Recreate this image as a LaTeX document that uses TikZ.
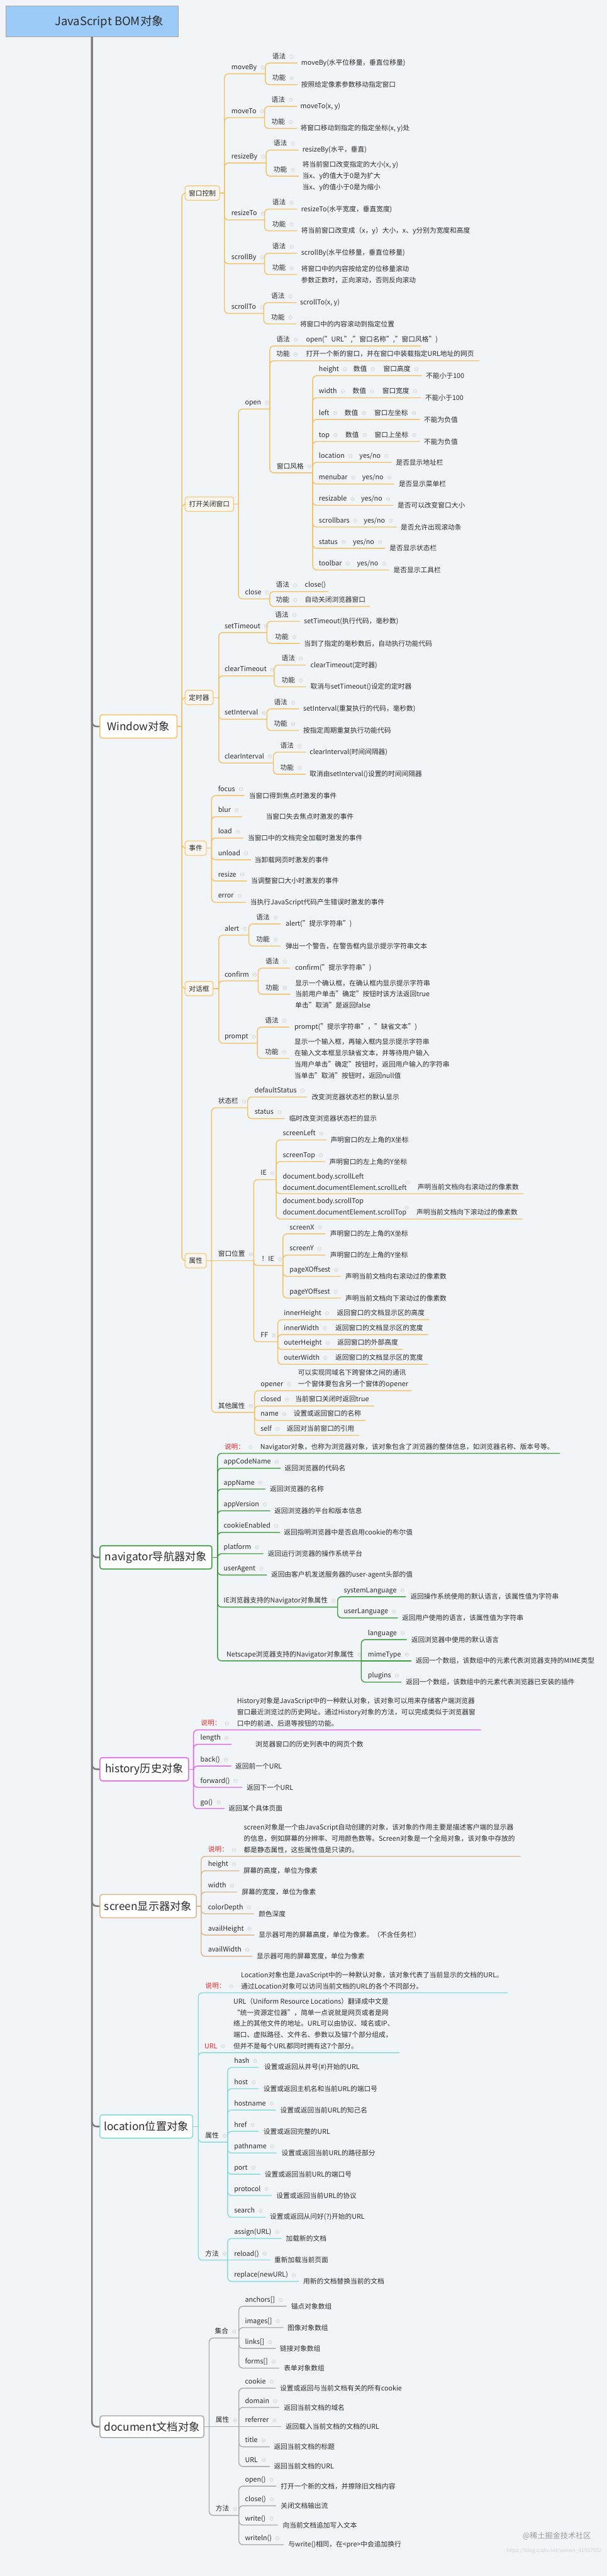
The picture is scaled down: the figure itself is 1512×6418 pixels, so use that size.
\documentclass[tikz,border=0pt]{standalone}
\usepackage{fontspec}
\setmainfont{Noto Sans CJK SC}
\newcommand\fsm{\fontsize{8.4}{14}\selectfont}
\newcommand\fbg{\fontsize{13.5}{16}\selectfont}
\newcommand\fti{\fontsize{14.5}{17}\selectfont}
\definecolor{bg}{HTML}{F2F5F7}
\definecolor{cw}{HTML}{F3C163}
\definecolor{cn}{HTML}{3E9A3E}
\definecolor{ch}{HTML}{E266E6}
\definecolor{cs}{HTML}{D9B48C}
\definecolor{cl}{HTML}{86DADC}
\definecolor{cd}{HTML}{A9A9A9}
\definecolor{trk}{HTML}{7D7D7D}
\definecolor{bx2}{HTML}{F9F6EF}
\definecolor{tc}{HTML}{2B2B2B}
\definecolor{rd}{HTML}{E02828}
\definecolor{ttl}{HTML}{9DCBF8}
\colorlet{br}{cw}
\tikzset{
 tx/.style={anchor=west, inner sep=0pt, font=\fsm, text=tc, text height=7pt, text depth=1.6pt},
 lf/.style={anchor=west, inner sep=0pt, font=\fsm, text=tc, align=left},
 conn/.style={draw=br, line width=1.1pt, rounded corners=5pt},
 box1/.style={draw=br, fill=white, line width=1.2pt, rounded corners=3pt, minimum height=29pt, inner sep=0pt, font=\fbg, text=tc},
 box2/.style={draw=br, fill=bx2, line width=0.8pt, rounded corners=3pt, minimum height=18pt, inner sep=0pt, font=\fsm, text=tc},
 trunk/.style={draw=trk, line width=2pt, rounded corners=6pt},
 mk/.style={draw=gray!45, line width=0.35pt},
}
\newcommand\MyMk[1]{\draw[mk] ([xshift=7pt]#1.east) circle (2.2pt) ([xshift=5.8pt]#1.east) -- ([xshift=8.2pt]#1.east);}
\newcommand\Tp[6]{\coordinate (#1) at (#3,#4);\draw[conn] (#2) |- (#1);\node[tx] (#1t) at (#5,#4-16) {#6};\MyMk{#1t}}
\newcommand\TpH[6]{\coordinate (#1) at (#3,#4);\draw[conn] (#2) -- (#1);\node[tx] (#1t) at (#5,#4-16) {#6};\MyMk{#1t}}
\newcommand\Lf[4]{\node[lf] (#1) at (#2,#3) {#4};}
\newcommand\InL[4]{\node[tx] (#1) at (#2,#3) {#4};}
\newcommand\InM[4]{\node[tx] (#1) at (#2,#3) {#4};\MyMk{#1}}
\begin{document}
\begin{tikzpicture}[x=0.5pt,y=-0.5pt]
\fill[bg] (0,0) rectangle (1512,6418);
\useasboundingbox (0,0) rectangle (1512,6418);
% title
\node[draw=gray!70, fill=ttl, minimum width=215pt, minimum height=39pt, inner sep=0pt] (title) at (229,53) {};
\node[font=\fti, text=tc, inner sep=0pt] (titlet) at (272,54) {JavaScript BOM对象};

% ================= Window =================
\begin{scope}
\colorlet{br}{cw}
\node[box1, minimum width=96pt] (win) at (345,1810) {Window对象};
\coordinate (winJ) at (453,1810);
\draw[conn] (win.east) -- (winJ);

% 窗口控制
\node[box2, minimum width=43pt] (wa) at (504,481) {窗口控制};
\draw[conn] (winJ) |- (wa.west);
\coordinate (waJ) at (559,481);
\draw[conn] (wa.east) -- (waJ);
\Tp{wa1}{waJ}{661}{184}{576}{moveBy}
\Tp{wa1a}{wa1}{741}{157}{678}{语法}
\Lf{wa1aL}{750}{157}{moveBy(水平位移量，垂直位移量)}
\Tp{wa1b}{wa1}{741}{211}{678}{功能}
\Lf{wa1bL}{750}{211}{按照给定像素参数移动指定窗口}
\Tp{wa2}{waJ}{659}{293}{576}{moveTo}
\Tp{wa2a}{wa2}{740}{265}{676}{语法}
\Lf{wa2aL}{748}{265}{moveTo(x, y)}
\Tp{wa2b}{wa2}{740}{320}{676}{功能}
\Lf{wa2bL}{748}{320}{将窗口移动到指定的指定坐标(x, y)处}
\Tp{wa3}{waJ}{663}{406}{576}{resizeBy}
\Tp{wa3a}{wa3}{744}{374}{681}{语法}
\Lf{wa3aL}{753}{374}{resizeBy(水平，垂直)}
\Tp{wa3b}{wa3}{744}{439}{681}{功能}
\Lf{wa3bL}{753}{439}{将当前窗口改变指定的大小(x, y)\\当x、y的值大于0是为扩大\\当x、y的值小于0是为缩小}
\Tp{wa4}{waJ}{659}{548}{576}{resizeTo}
\Tp{wa4a}{wa4}{740}{521}{678}{语法}
\Lf{wa4aL}{750}{521}{resizeTo(水平宽度，垂直宽度)}
\Tp{wa4b}{wa4}{740}{575}{678}{功能}
\Lf{wa4bL}{750}{575}{将当前窗口改变成（x，y）大小，x、y分别为宽度和高度}
\Tp{wa5}{waJ}{659}{657}{576}{scrollBy}
\Tp{wa5a}{wa5}{740}{631}{678}{语法}
\Lf{wa5aL}{750}{631}{scrollBy(水平位移量，垂直位移量)}
\Tp{wa5b}{wa5}{740}{684}{678}{功能}
\Lf{wa5bL}{750}{684}{将窗口中的内容按给定的位移量滚动\\参数正数时，正向滚动，否则反向滚动}
\Tp{wa6}{waJ}{657}{781}{576}{scrollTo}
\Tp{wa6a}{wa6}{738}{754}{675}{语法}
\Lf{wa6aL}{747}{754}{scrollTo(x, y)}
\Tp{wa6b}{wa6}{738}{807}{675}{功能}
\Lf{wa6bL}{747}{807}{将窗口中的内容滚动到指定位置}

% 打开关闭窗口
\node[box2, minimum width=60.5pt] (wb) at (521.5,1256) {打开关闭窗口};
\draw[conn] (winJ) |- (wb.west);
\coordinate (wbJ) at (594,1256);
\draw[conn] (wb.east) -- (wbJ);
\Tp{wb1}{wbJ}{672}{1019}{610}{open}
\Tp{wb1a}{wb1}{1048}{862}{688}{语法}
\InL{wb1aL}{762}{846}{open("URL","窗口名称","窗口风格")}
\Tp{wb1b}{wb1}{1194}{899}{688}{功能}
\InL{wb1bL}{762}{883}{打开一个新的窗口，并在窗口中装载指定URL地址的网页}
\Tp{wb1c}{wb1}{779}{1178}{689}{窗口风格}
\Tp{ws1}{wb1c}{1051}{936}{794}{height}
\InM{ws1b}{880}{920}{数值}
\InM{ws1c}{955}{920}{窗口高度}
\Lf{ws1d}{1061}{936}{不能小于100}
\Tp{ws2}{wb1c}{1049}{991}{794}{width}
\InM{ws2b}{878}{975}{数值}
\InM{ws2c}{952}{975}{窗口宽度}
\Lf{ws2d}{1059}{991}{不能小于100}
\Tp{ws3}{wb1c}{1046}{1045}{794}{left}
\InM{ws3b}{858}{1029}{数值}
\InM{ws3c}{932}{1029}{窗口左坐标}
\Lf{ws3d}{1056}{1045}{不能为负值}
\Tp{ws4}{wb1c}{1046}{1100}{794}{top}
\InM{ws4b}{860}{1084}{数值}
\InM{ws4c}{933}{1084}{窗口上坐标}
\Lf{ws4d}{1056}{1100}{不能为负值}
\Tp{ws5}{wb1c}{976}{1152}{794}{location}
\InM{ws5b}{895}{1136}{yes/no}
\Lf{ws5d}{986}{1152}{是否显示地址栏}
\Tp{ws6}{wb1c}{982}{1206}{794}{menubar}
\InM{ws6b}{902}{1190}{yes/no}
\Lf{ws6d}{993}{1206}{是否显示菜单栏}
\Tp{ws7}{wb1c}{979}{1259}{794}{resizable}
\InM{ws7b}{899}{1243}{yes/no}
\Lf{ws7d}{990}{1259}{是否可以改变窗口大小}
\Tp{ws8}{wb1c}{988}{1313}{794}{scrollbars}
\InM{ws8b}{906}{1297}{yes/no}
\Lf{ws8d}{998}{1313}{是否允许出现滚动条}
\Tp{ws9}{wb1c}{960}{1366}{794}{status}
\InM{ws9b}{879}{1350}{yes/no}
\Lf{ws9d}{970}{1366}{是否显示状态栏}
\Tp{ws10}{wb1c}{969}{1420}{794}{toolbar}
\InM{ws10b}{889}{1404}{yes/no}
\Lf{ws10d}{980}{1420}{是否显示工具栏}
\Tp{wb2}{wbJ}{672}{1492}{610}{close}
\Tp{wb2a}{wb2}{818}{1474}{687}{语法}
\InL{wb2aL}{759}{1458}{close()}
\Tp{wb2b}{wb2}{921}{1511}{687}{功能}
\InL{wb2bL}{759}{1495}{自动关闭浏览器窗口}

% 定时器
\node[box2, minimum width=35pt] (wc) at (496,1738) {定时器};
\draw[conn] (winJ) |- (wc.west);
\coordinate (wcJ) at (545,1738);
\draw[conn] (wc.east) -- (wcJ);
\Tp{wc1}{wcJ}{665}{1576}{559}{setTimeout}
\Tp{wc1a}{wc1}{747}{1548}{685}{语法}
\Lf{wc1aL}{757}{1548}{setTimeout(执行代码，毫秒数)}
\Tp{wc1b}{wc1}{747}{1603}{685}{功能}
\Lf{wc1bL}{757}{1603}{当到了指定的毫秒数后，自动执行功能代码}
\Tp{wc2}{wcJ}{683}{1684}{559}{clearTimeout}
\Tp{wc2a}{wc2}{762}{1657}{701}{语法}
\Lf{wc2aL}{773}{1657}{clearTimeout(定时器)}
\Tp{wc2b}{wc2}{762}{1711}{701}{功能}
\Lf{wc2bL}{773}{1711}{取消与setTimeout()设定的定时器}
\Tp{wc3}{wcJ}{665}{1792}{559}{setInterval}
\Tp{wc3a}{wc3}{745}{1766}{682}{语法}
\Lf{wc3aL}{755}{1766}{setInterval(重复执行的代码，毫秒数)}
\Tp{wc3b}{wc3}{745}{1820}{682}{功能}
\Lf{wc3bL}{755}{1820}{按指定周期重复执行功能代码}
\Tp{wc4}{wcJ}{681}{1901}{559}{clearInterval}
\Tp{wc4a}{wc4}{762}{1874}{698}{语法}
\Lf{wc4aL}{771}{1874}{clearInterval(时间间隔器)}
\Tp{wc4b}{wc4}{762}{1929}{698}{功能}
\Lf{wc4bL}{771}{1929}{取消由setInterval()设置的时间间隔器}

% 事件
\node[box2, minimum width=26.5pt] (wd) at (487.5,2113) {事件};
\draw[conn] (winJ) |- (wd.west);
\coordinate (wdJ) at (527,2113);
\draw[conn] (wd.east) -- (wdJ);
\Tp{wd1}{wdJ}{609}{1982}{543}{focus}
\Lf{wd1L}{620}{1982}{当窗口得到焦点时激发的事件}
\Tp{wd2}{wdJ}{603}{2035}{543}{blur}
\Lf{wd2L}{662}{2035}{当窗口失去焦点时激发的事件}
\Tp{wd3}{wdJ}{606}{2088}{543}{load}
\Lf{wd3L}{617}{2088}{当窗口中的文档完全加载时激发的事件}
\Tp{wd4}{wdJ}{625}{2142}{543}{unload}
\Lf{wd4L}{634}{2142}{当卸载网页时激发的事件}
\Tp{wd5}{wdJ}{615}{2195}{543}{resize}
\Lf{wd5L}{625}{2195}{当调整窗口大小时激发的事件}
\Tp{wd6}{wdJ}{613}{2248}{543}{error}
\Lf{wd6L}{623}{2248}{当执行JavaScript代码产生错误时激发的事件}

% 对话框
\node[box2, minimum width=35pt] (we) at (496,2463) {对话框};
\draw[conn] (winJ) |- (we.west);
\coordinate (weJ) at (545,2463);
\draw[conn] (we.east) -- (weJ);
\Tp{we1}{weJ}{620}{2330}{559}{alert}
\Tp{we1a}{we1}{699}{2302}{638}{语法}
\Lf{we1aL}{711}{2302}{alert("提示字符串")}
\Tp{we1b}{we1}{699}{2357}{638}{功能}
\Lf{we1bL}{711}{2357}{弹出一个警告，在警告框内显示提示字符串文本}
\Tp{we2}{weJ}{643}{2444}{559}{confirm}
\Tp{we2a}{we2}{723}{2412}{661}{语法}
\Lf{we2aL}{735}{2412}{confirm("提示字符串")}
\Tp{we2b}{we2}{723}{2477}{661}{功能}
\Lf{we2bL}{735}{2477}{显示一个确认框，在确认框内显示提示字符串\\当前用户单击"确定"按钮时该方法返回true\\单击"取消"是返回false}
\Tp{we3}{weJ}{641}{2599}{559}{prompt}
\Tp{we3a}{we3}{721}{2559}{660}{语法}
\Lf{we3aL}{733}{2559}{prompt("提示字符串"，"缺省文本")}
\Tp{we3b}{we3}{721}{2637}{660}{功能}
\Lf{we3bL}{733}{2638}{显示一个输入框，再输入框内显示提示字符串\\在输入文本框显示缺省文本，并等待用户输入\\当用户单击"确定"按钮时，返回用户输入的字符串\\当单击"取消"按钮时，返回null值}

% 属性
\node[box2, minimum width=26.5pt] (wf) at (487.5,3141) {属性};
\draw[conn] (winJ) |- (wf.west);
\coordinate (wfJ) at (527,3141);
\draw[conn] (wf.east) -- (wfJ);
\Tp{wf1}{wfJ}{617}{2760}{543}{状态栏}
\Tp{wf1a}{wf1}{765}{2733}{634}{defaultStatus}
\Lf{wf1aL}{776}{2733}{改变浏览器状态栏的默认显示}
\Tp{wf1b}{wf1}{709}{2787}{634}{status}
\Lf{wf1bL}{720}{2787}{临时改变浏览器状态栏的显示}
\TpH{wf2}{wfJ}{632}{3141}{543}{窗口位置}
\Tp{wf2a}{wf2}{688}{2939}{649}{IE}
\Tp{ie1}{wf2a}{813}{2840}{704}{screenLeft}
\Lf{ie1L}{823}{2840}{声明窗口的左上角的X坐标}
\Tp{ie2}{wf2a}{810}{2894}{704}{screenTop}
\Lf{ie2L}{820}{2894}{声明窗口的左上角的Y坐标}
\coordinate (ie3) at (1304,2974);
\draw[conn] (wf2a) |- (ie3);
\Lf{ie3t}{704}{2944}{document.body.scrollLeft\\document.documentElement.scrollLeft}
\draw[mk] (1016,2946) circle (2.2pt) (1013.6,2946) -- (1018.4,2946);
\InL{ie3L}{1040}{2958}{声明当前文档向右滚动过的像素数}
\coordinate (ie4) at (1302,3037);
\draw[conn] (wf2a) |- (ie4);
\Lf{ie4t}{704}{3007}{document.body.scrollTop\\document.documentElement.scrollTop}
\draw[mk] (1013,3009) circle (2.2pt) (1010.6,3009) -- (1015.4,3009);
\InL{ie4L}{1037}{3021}{声明当前文档向下滚动过的像素数}
\Tp{wf2b}{wf2}{705}{3153}{651}{！IE}
\Tp{ni1}{wf2b}{810}{3074}{721}{screenX}
\Lf{ni1L}{822}{3074}{声明窗口的左上角的X坐标}
\Tp{ni2}{wf2b}{810}{3127}{721}{screenY}
\Lf{ni2L}{822}{3127}{声明窗口的左上角的Y坐标}
\Tp{ni3}{wf2b}{849}{3180}{721}{pageXOffsest}
\Lf{ni3L}{860}{3180}{声明当前文档向右滚动过的像素数}
\Tp{ni4}{wf2b}{849}{3234}{721}{pageYOffsest}
\Lf{ni4L}{860}{3234}{声明当前文档向下滚动过的像素数}
\Tp{wf2c}{wf2}{692}{3343}{649}{FF}
\Tp{ff1}{wf2c}{1070}{3288}{707}{innerHeight}
\InL{ff1L}{839}{3272}{返回窗口的文档显示区的高度}
\Tp{ff2}{wf2c}{1066}{3325}{707}{innerWidth}
\InL{ff2L}{835}{3309}{返回窗口的文档显示区的宽度}
\Tp{ff3}{wf2c}{1003}{3362}{707}{outerHeight}
\InL{ff3L}{840}{3346}{返回窗口的外部高度}
\Tp{ff4}{wf2c}{1066}{3399}{707}{outerWidth}
\InL{ff4L}{835}{3383}{返回窗口的文档显示区的宽度}
\Tp{wf3}{wfJ}{634}{3519}{543}{其他属性}
\Tp{ot1}{wf3}{1025}{3465}{649}{opener}
\Lf{ot1L}{742}{3435}{可以实现同域名下跨窗体之间的通讯\\一个窗体要包含另一个窗体的opener}
\Tp{ot2}{wf3}{932}{3503}{649}{closed}
\InL{ot2L}{735}{3487}{当前窗口关闭时返回true}
\Tp{ot3}{wf3}{911}{3539}{649}{name}
\InL{ot3L}{731}{3523}{设置或返回窗口的名称}
\Tp{ot4}{wf3}{894}{3576}{649}{self}
\InL{ot4L}{714}{3560}{返回对当前窗口的引用}
\end{scope}

% ================= navigator =================
\begin{scope}
\colorlet{br}{cn}
\node[box1, minimum width=139.5pt] (nav) at (388.5,3880) {navigator导航器对象};
\coordinate (navJ) at (542,3880);
\draw[conn] (nav.east) -- (navJ);
\Tp{n0}{navJ}{1395}{3621}{559}{\textcolor{rd}{说明：}}
\InL{n0L}{648}{3605}{Navigator对象，也称为浏览器对象，该对象包含了浏览器的整体信息，如浏览器名称、版本号等。}
\Tp{n1}{navJ}{699}{3658}{557}{appCodeName}
\Lf{n1L}{709}{3658}{返回浏览器的代码名}
\Tp{n2}{navJ}{661}{3710}{557}{appName}
\Lf{n2L}{672}{3710}{返回浏览器的名称}
\Tp{n3}{navJ}{673}{3764}{557}{appVersion}
\Lf{n3L}{683}{3764}{返回浏览器的平台和版本信息}
\Tp{n4}{navJ}{697}{3818}{557}{cookieEnabled}
\Lf{n4L}{707}{3818}{返回指明浏览器中是否启用cookie的布尔值}
\Tp{n5}{navJ}{656}{3871}{557}{platform}
\Lf{n5L}{667}{3871}{返回运行浏览器的操作系统平台}
\Tp{n6}{navJ}{665}{3924}{557}{userAgent}
\Lf{n6L}{675}{3924}{返回由客户机发送服务器的user-agent头部的值}
\Tp{n7}{navJ}{841}{4004}{557}{IE浏览器支持的Navigator对象属性}
\Tp{n7a}{n7}{1011}{3978}{856}{systemLanguage}
\Lf{n7aL}{1022}{3978}{返回操作系统使用的默认语言，该属性值为字符串}
\Tp{n7b}{n7}{991}{4031}{856}{userLanguage}
\Lf{n7bL}{1001}{4031}{返回用户使用的语言，该属性值为字符串}
\Tp{n8}{navJ}{900}{4138}{564}{Netscape浏览器支持的Navigator对象属性}
\Tp{n8a}{n8}{1013}{4085}{916}{language}
\Lf{n8aL}{1024}{4085}{返回浏览器中使用的默认语言}
\TpH{n8b}{n8}{1024}{4138}{916}{mimeType}
\Lf{n8bL}{1035}{4138}{返回一个数组，该数组中的元素代表浏览器支持的MIME类型}
\Tp{n8c}{n8}{1000}{4191}{916}{plugins}
\Lf{n8cL}{1011}{4191}{返回一个数组，该数组中的元素代表浏览器已安装的插件}
\end{scope}

% ================= history =================
\begin{scope}
\colorlet{br}{ch}
\node[box1, minimum width=110.5pt] (his) at (359.5,4408) {history历史对象};
\coordinate (hisJ) at (482,4408);
\draw[conn] (his.east) -- (hisJ);
\Tp{h0}{hisJ}{1198}{4310}{500}{\textcolor{rd}{说明：}}
\Lf{h0L}{590}{4266}{History对象是JavaScript中的一种默认对象，该对象可以用来存储客户端浏览器\\窗口最近浏览过的历史网址。通过History对象的方法，可以完成类似于浏览器窗\\口中的前进、后退等按钮的功能。}
\Tp{h1}{hisJ}{577}{4346}{499}{length}
\Lf{h1L}{636}{4346}{浏览器窗口的历史列表中的网页个数}
\Tp{h2}{hisJ}{576}{4400}{499}{back()}
\Lf{h2L}{586}{4400}{返回前一个URL}
\Tp{h3}{hisJ}{604}{4453}{499}{forward()}
\Lf{h3L}{614}{4453}{返回下一个URL}
\Tp{h4}{hisJ}{559}{4506}{499}{go()}
\Lf{h4L}{569}{4506}{返回某个具体页面}
\end{scope}

% ================= screen =================
\begin{scope}
\colorlet{br}{cs}
\node[box1, minimum width=120pt] (scr) at (369,4749) {screen显示器对象};
\coordinate (scrJ) at (501,4749);
\draw[conn] (scr.east) -- (scrJ);
\Tp{s0}{scrJ}{1297}{4625}{518}{\textcolor{rd}{说明：}}
\Lf{s0L}{607}{4581}{screen对象是一个由JavaScript自动创建的对象，该对象的作用主要是描述客户端的显示器\\的信息，例如屏幕的分辨率、可用颜色数等。Screen对象是一个全局对象，该对象中存放的\\都是静态属性，这些属性值是只读的。}
\Tp{s1}{scrJ}{596}{4661}{518}{height}
\Lf{s1L}{606}{4661}{屏幕的高度，单位为像素}
\Tp{s2}{scrJ}{591}{4714}{518}{width}
\Lf{s2L}{602}{4714}{屏幕的宽度，单位为像素}
\Tp{s3}{scrJ}{633}{4768}{518}{colorDepth}
\Lf{s3L}{644}{4768}{颜色深度}
\Tp{s4}{scrJ}{634}{4821}{518}{availHeight}
\Lf{s4L}{644}{4821}{显示器可用的屏幕高度，单位为像素。（不含任务栏）}
\Tp{s5}{scrJ}{629}{4874}{518}{availWidth}
\Lf{s5L}{639}{4874}{显示器可用的屏幕宽度，单位为像素}
\end{scope}

% ================= location =================
\begin{scope}
\colorlet{br}{cl}
\node[box1, minimum width=115.5pt] (loc) at (364.5,5298) {location位置对象};
\coordinate (locJ) at (494,5298);
\draw[conn] (loc.east) -- (locJ);
\Tp{l0}{locJ}{1265}{4965}{511}{\textcolor{rd}{说明：}}
\Lf{l0L}{600}{4935}{Location对象也是JavaScript中的一种默认对象，该对象代表了当前显示的文档的URL。\\通过Location对象可以访问当前文档的URL的各个不同部分。}
\Tp{l1}{locJ}{995}{5114}{509}{\textcolor{rd}{URL}}
\Lf{l1L}{581}{5042}{URL（Uniform Resource Locations）翻译成中文是\\“统一资源定位器”，简单一点说就是网页或者是网\\络上的其他文件的地址。URL可以由协议、域名或IP、\\端口、虚拟路径、文件名、参数以及锚7个部分组成，\\但并不是每个URL都同时拥有这7个部分。}
\Tp{l2}{locJ}{567}{5337}{511}{属性}
\Tp{l2a}{l2}{644}{5151}{583}{hash}
\Lf{l2aL}{658}{5151}{设置或返回从井号(\#)开始的URL}
\Tp{l2b}{l2}{644}{5204}{583}{host}
\Lf{l2bL}{656}{5204}{设置或返回主机名和当前URL的端口号}
\Tp{l2c}{l2}{687}{5257}{583}{hostname}
\Lf{l2cL}{698}{5257}{设置或返回当前URL的知己名}
\Tp{l2d}{l2}{644}{5310}{583}{href}
\Lf{l2dL}{656}{5310}{设置或返回完整的URL}
\Tp{l2e}{l2}{689}{5364}{583}{pathname}
\Lf{l2eL}{701}{5364}{设置或返回当前URL的路径部分}
\Tp{l2f}{l2}{648}{5417}{583}{port}
\Lf{l2fL}{659}{5417}{设置或返回当前URL的端口号}
\Tp{l2g}{l2}{677}{5470}{583}{protocol}
\Lf{l2gL}{688}{5470}{设置或返回当前URL的协议}
\Tp{l2h}{l2}{662}{5524}{583}{search}
\Lf{l2hL}{672}{5524}{设置或返回从问好(?)开始的URL}
\Tp{l3}{locJ}{567}{5631}{511}{方法}
\Tp{l3a}{l3}{701}{5577}{583}{assign(URL)}
\Lf{l3aL}{712}{5577}{加载新的文档}
\TpH{l3b}{l3}{673}{5631}{583}{reload()}
\Lf{l3bL}{683}{5631}{重新加载当前页面}
\Tp{l3c}{l3}{745}{5684}{583}{replace(newURL)}
\Lf{l3cL}{755}{5684}{用新的文档替换当前的文档}
\end{scope}

% ================= document =================
\begin{scope}
\colorlet{br}{cd}
\node[box1, minimum width=129.5pt, minimum height=27pt] (doc) at (378.5,6046) {document文档对象};
\coordinate (docJ) at (521,6046);
\draw[conn] (doc.east) -- (docJ);
\Tp{d1}{docJ}{595}{5825}{535}{集合}
\Tp{d1a}{d1}{714}{5746}{610}{anchors[]}
\Lf{d1aL}{725}{5746}{锚点对象数组}
\Tp{d1b}{d1}{706}{5799}{610}{images[]}
\Lf{d1bL}{716}{5799}{图像对象数组}
\Tp{d1c}{d1}{687}{5851}{610}{links[]}
\Lf{d1cL}{697}{5851}{链接对象数组}
\Tp{d1d}{d1}{696}{5900}{610}{forms[]}
\Lf{d1dL}{707}{5900}{表单对象数组}
\TpH{d2}{docJ}{595}{6046}{537}{属性}
\Tp{d2a}{d2}{687}{5950}{610}{cookie}
\Lf{d2aL}{697}{5950}{设置或返回与当前文档有关的所有cookie}
\Tp{d2b}{d2}{696}{5998}{610}{domain}
\Lf{d2bL}{707}{5998}{返回当前文档的域名}
\TpH{d2c}{d2}{701}{6046}{610}{referrer}
\Lf{d2cL}{711}{6046}{返回载入当前文档的文档的URL}
\Tp{d2d}{d2}{672}{6096}{610}{title}
\Lf{d2dL}{682}{6096}{返回当前文档的标题}
\Tp{d2e}{d2}{672}{6145}{610}{URL}
\Lf{d2eL}{682}{6145}{返回当前文档的URL}
\Tp{d3}{docJ}{595}{6267}{537}{方法}
\Tp{d3a}{d3}{688}{6194}{610}{open()}
\Lf{d3aL}{699}{6194}{打开一个新的文档，并擦除旧文档内容}
\Tp{d3b}{d3}{688}{6243}{610}{close()}
\Lf{d3bL}{699}{6243}{关闭文档输出流}
\Tp{d3c}{d3}{692}{6291}{610}{write()}
\Lf{d3cL}{704}{6291}{向当前文档追加写入文本}
\Tp{d3d}{d3}{707}{6340}{610}{writeln()}
\Lf{d3dL}{718}{6340}{与write()相同，在<pre>中会追加换行}
\end{scope}

% trunk
\draw[trunk] (title.south) |- (win.west);
\draw[trunk] (title.south) |- (nav.west);
\draw[trunk] (title.south) |- (his.west);
\draw[trunk] (title.south) |- (scr.west);
\draw[trunk] (title.south) |- (loc.west);
\draw[trunk] (title.south) |- (doc.west);

% watermark
\node[font=\fontsize{9.5}{11}\selectfont, text=gray!80, inner sep=0pt] (wm) at (1387,6319) {@稀土掘金技术社区};
\node[font=\fontsize{6.5}{8}\selectfont, text=gray!35, inner sep=0pt] (wm2) at (1380,6356) {https://blog.csdn.net/weixin\_41937552};
\end{tikzpicture}
\end{document}
